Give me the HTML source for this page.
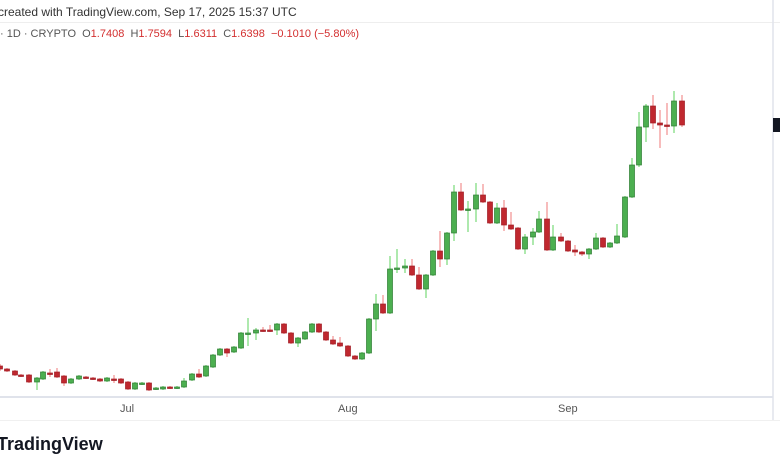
<!DOCTYPE html>
<html><head><meta charset="utf-8"><style>
html,body{margin:0;padding:0;background:#fff;width:780px;height:470px;overflow:hidden;font-family:"Liberation Sans",sans-serif}
.t{position:absolute;white-space:nowrap}
</style></head><body>
<div class="t" style="left:-2px;top:5px;font-size:12px;color:#333">created with TradingView.com, Sep 17, 2025 15:37 UTC</div>
<div style="position:absolute;left:0;top:22px;width:780px;height:1px;background:#eee"></div>
<div class="t" style="left:0px;top:28px;font-size:11px;color:#555">· 1D · CRYPTO&nbsp; O<span style="color:#d32f2f">1.7408</span>&nbsp; H<span style="color:#d32f2f">1.7594</span>&nbsp; L<span style="color:#d32f2f">1.6311</span>&nbsp; C<span style="color:#d32f2f">1.6398</span>&nbsp; <span style="color:#d32f2f">−0.1010 (−5.80%)</span></div>
<svg id="s" width="780" height="470" style="position:absolute;left:0;top:0"></svg>
<div class="t" style="left:120px;top:403px;font-size:11px;color:#555">Jul</div>
<div class="t" style="left:338px;top:403px;font-size:11px;color:#555">Aug</div>
<div class="t" style="left:558px;top:403px;font-size:11px;color:#555">Sep</div>
<div class="t" style="left:-3px;top:434px;font-size:18px;font-weight:bold;color:#131722">TradingView</div>
<script>
var d=[
[0,'r',366,369,364,371],[7,'r',369,371],[15,'r',371,375],[21,'r',375,376],[29,'r',375,382],
[37,'g',378,382,377,390],[43,'g',372,379],[50,'r',373,374,369,377],[57,'r',372,377,368],[64,'r',376,383,375,386],
[71,'g',379,383],[79,'g',376,379],[86,'r',377,378],[93,'r',378,379],[100,'r',379,381],[107,'g',378,381],
[114,'r',379,380,375,383],[121,'r',379,383],[128,'r',382,389],[135,'g',383,389],[142,'g',383,384],[149,'r',383,390],
[156,'g',388,389],[163,'g',387,389],[170,'r',387,388],[177,'g',387,388],[184,'g',381,387,378],[192,'g',374,380],
[199,'r',374,377,369],[206,'g',366,376],[213,'g',355,367],[220,'g',349,355],[227,'r',349,353,348,357],[234,'g',347,352],
[241,'g',333,348],[248,'g',333,334,318,346],[256,'g',330,333,328,340],[263,'r',330,331,327],[270,'r',330,331,325],
[277,'g',324,330,323,335],[284,'r',324,333],[291,'r',333,343],[298,'g',338,343,337,347],[305,'g',332,339],[312,'g',324,332],
[319,'r',324,332],[326,'r',332,340],[333,'r',340,344,336],[340,'r',343,346,337],[348,'r',346,356],[355,'r',356,359],
[362,'g',353,359],[369,'g',319,353],[376,'g',304,319,294,331],[383,'r',304,313,295],[390,'g',269,313,256],
[397,'g',268,269,249,273],[405,'g',266,268,259,273],[412,'r',266,275,259],[419,'r',275,289,267],[426,'g',275,289,274,298],
[433,'g',251,275],[440,'r',251,259,231,267],[447,'g',233,259,232,265],[454,'g',192,233,185,241],[461,'r',192,210,183],
[468,'g',209,210,201,232],[476,'g',195,209,183,222],[483,'r',195,202,184],[490,'r',202,223],[497,'g',208,223,203],
[504,'r',208,225,200,231],[511,'r',225,229,212],[518,'r',228,249],[525,'g',237,249,234,254],[533,'g',232,237,228,245],
[539,'g',219,232,211],[547,'r',219,250,202],[553,'g',237,250,225],[561,'r',237,241,233],[568,'r',241,251],
[575,'r',250,252,245,256],[582,'r',252,254,251,256],[589,'g',249,254,248,259],[596,'g',238,249,233],[603,'r',238,247],
[610,'g',243,247],[617,'g',236,243,224],[625,'g',197,237],[632,'g',165,197,158],[639,'g',127,165,112,167],
[646,'g',106,127,104,142],[653,'r',106,123,95,129],[660,'r',123,125,110,148],[667,'r',125,126,103,135],
[674,'g',101,126,91,133],[682,'r',101,125,95,127]];
var h='<line x1="0" y1="397" x2="773" y2="397" stroke="#e0e3eb" stroke-width="2"/>'+
'<line x1="0" y1="420.5" x2="780" y2="420.5" stroke="#f0f0f0"/>'+
'<line x1="773" y1="0" x2="773" y2="420" stroke="#e0e3eb" stroke-width="1.5"/>'+
'<rect x="773" y="118" width="7" height="14" fill="#131722"/>';
d.forEach(function(c){
 var x=c[0],g=c[1]=='g',t=c[2],b=c[3],hi=c[4]!==undefined?c[4]:t-1,lo=c[5]!==undefined?c[5]:b+1;
 var bh=Math.max(b-t,1.5);
 h+='<line x1="'+x+'" y1="'+hi+'" x2="'+x+'" y2="'+lo+'" stroke="'+(g?'#5ed35e':'#ef7a7a')+'" stroke-width="1"/>';
 h+='<rect x="'+(x-2.5)+'" y="'+t+'" width="5" height="'+bh+'" fill="'+(g?'#4caf50':'#c0282f')+'" stroke="'+(g?'#2e7d32':'#a01c24')+'" stroke-width="0.7"/>';
});
document.getElementById('s').innerHTML=h;
</script>
</body></html>
